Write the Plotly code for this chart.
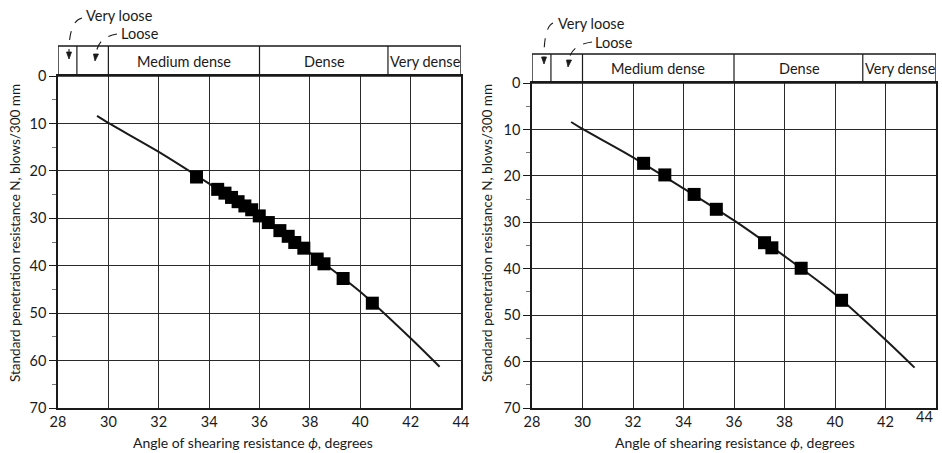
import plotly.graph_objects as go

# ---- data ----
# fitted curve (same on both panels)
curve_phi = [29.55, 30.0, 32.0, 34.0, 36.0, 38.0, 40.0, 42.0, 43.15]
curve_N = [8.4, 9.9, 16.0, 22.7, 29.6, 37.3, 45.5, 55.3, 61.3]

# left panel points
left_phi = [33.5, 34.34, 34.63, 34.89, 35.15, 35.42, 35.69, 35.99, 36.35, 36.81,
            37.14, 37.40, 37.76, 38.29, 38.56, 39.32, 40.48]
left_N = [21.3, 23.9, 24.7, 25.6, 26.5, 27.4, 28.2, 29.5, 30.9, 32.6,
          33.8, 35.1, 36.3, 38.6, 39.6, 42.7, 47.9]

# right panel points
right_phi = [32.42, 33.26, 34.42, 35.30, 37.21, 37.50, 38.66, 40.26]
right_N = [17.3, 19.8, 24.0, 27.2, 34.4, 35.5, 39.9, 46.8]

# density classes (boundaries in degrees)
class_edges = [28.0, 28.75, 30.0, 36.0, 41.1, 44.0]
class_labels = ["", "", "Medium dense", "Dense", "Very dense"]
class_label_x = [None, None, 33.0, 38.6, 42.6]

x_ticks = [28, 30, 32, 34, 36, 38, 40, 42, 44]
y_ticks = [0, 10, 20, 30, 40, 50, 60, 70]

W, H = 942, 453
FONT = "Lato"
INK = "#1a1a1a"


def P(px, py):
    """window pixel -> paper coordinates"""
    return px / W, 1 - py / H


fig = go.Figure()

panels = [
    dict(x="x", y="y", phi=left_phi, N=left_N,
         xpx=(58, 461), ypx=(76, 408), band_top=46, band_bot=76,
         vl_arrow=[(82, 18), (69, 21), (69, 52), (69, 59)],
         l_arrow=[(117, 34), (98, 37), (96, 54), (95, 61)],
         vl_text=(84, 16), l_text=(119, 34), ytitle_x=15, xtitle_x=253),
    dict(x="x2", y="y2", phi=right_phi, N=right_N,
         xpx=(532, 936), ypx=(83, 408), band_top=54, band_bot=83,
         vl_arrow=[(553, 23), (544, 27), (544, 57), (544, 64)],
         l_arrow=[(592, 42), (571, 45), (569, 60), (568, 67)],
         vl_text=(556, 23), l_text=(593, 42), ytitle_x=487, xtitle_x=735),
]

shapes = []
annotations = []

for i, p in enumerate(panels):
    fig.add_trace(go.Scatter(x=curve_phi, y=curve_N, mode="lines",
                             line=dict(color=INK, width=2, shape="spline", smoothing=0.8),
                             xaxis=p["x"], yaxis=p["y"], showlegend=False,
                             hoverinfo="skip"))
    fig.add_trace(go.Scatter(x=p["phi"], y=p["N"], mode="markers",
                             marker=dict(symbol="square", size=13, color="black",
                                         line=dict(width=0)),
                             xaxis=p["x"], yaxis=p["y"], showlegend=False))

    xname = "xaxis" if i == 0 else "xaxis2"
    yname = "yaxis" if i == 0 else "yaxis2"
    x0p, _ = P(p["xpx"][0], 0)
    x1p, _ = P(p["xpx"][1], 0)
    _, ytp = P(0, p["ypx"][0])
    _, ybp = P(0, p["ypx"][1])
    xtt = [str(v) for v in x_ticks] if i == 0 else [str(v) for v in x_ticks[:-1]] + [""]
    fig.layout[xname] = dict(
        domain=[x0p, min(x1p, 1.0)], range=[28, 44], tickvals=x_ticks, ticktext=xtt,
        ticks="",
        showgrid=True, gridcolor="#2a2a2a", gridwidth=1.3,
        showline=True, linecolor=INK, linewidth=1.6, mirror=True,
        zeroline=False, anchor=p["y"], automargin=False,
        tickfont=dict(family=FONT, size=14.5, color=INK),
    )
    fig.layout[yname] = dict(
        domain=[ybp, ytp], range=[70, 0], tickvals=y_ticks, ticks="outside",
        ticklen=7, tickwidth=1.3, tickcolor=INK,
        minor=dict(dtick=5, tick0=0, ticks="outside", ticklen=4, tickcolor="#777",
                   showgrid=False),
        showgrid=True, gridcolor="#2a2a2a", gridwidth=1.3,
        showline=True, linecolor=INK, linewidth=1.6, mirror=True,
        zeroline=False, anchor=p["x"], automargin=False,
        tickfont=dict(family=FONT, size=14.5, color=INK),
    )

    # header band
    _, ytop = P(0, p["band_top"])
    _, ybot = P(0, p["band_bot"])
    shapes.append(dict(type="rect", xref=p["x"], yref="paper", x0=28, x1=44,
                       y0=ybot, y1=ytop, line=dict(color=INK, width=1.4),
                       fillcolor="rgba(0,0,0,0)", layer="above"))
    for e in class_edges[1:-1]:
        shapes.append(dict(type="line", xref=p["x"], yref="paper", x0=e, x1=e,
                           y0=ybot, y1=ytop, line=dict(color=INK, width=1.2)))
    ymid = (ytop + ybot) / 2
    for lab, lx in zip(class_labels, class_label_x):
        if lab:
            annotations.append(dict(text=lab, x=lx, y=ymid, xref=p["x"], yref="paper",
                                    showarrow=False, xanchor="center", yanchor="middle",
                                    font=dict(family=FONT, size=14.5, color=INK)))

    # curved dashed arrows for Very loose / Loose
    for arr in (p["vl_arrow"], p["l_arrow"]):
        (sx, sy), (cx, cy), (ex, ey), (tx, ty) = [P(*q) for q in arr]
        shapes.append(dict(type="path", xref="paper", yref="paper",
                           path=f"M {sx},{sy} Q {cx},{cy} {ex},{ey}",
                           line=dict(color=INK, width=1.1, dash="dash")))
        ex_px, ey_px = arr[2]
        a = P(ex_px - 2.5, ey_px)
        b = P(ex_px + 2.5, ey_px)
        shapes.append(dict(type="path", xref="paper", yref="paper",
                           path=f"M {a[0]},{a[1]} L {b[0]},{b[1]} L {tx},{ty} Z",
                           fillcolor=INK, line=dict(color=INK, width=0.8)))

    vx, vy = P(*p["vl_text"])
    lx_, ly_ = P(*p["l_text"])
    annotations.append(dict(text="Very loose", x=vx, y=vy, xref="paper", yref="paper",
                            showarrow=False, xanchor="left", yanchor="middle",
                            font=dict(family=FONT, size=14.5, color=INK)))
    annotations.append(dict(text="Loose", x=lx_, y=ly_, xref="paper", yref="paper",
                            showarrow=False, xanchor="left", yanchor="middle",
                            font=dict(family=FONT, size=14.5, color=INK)))

    # axis titles
    tx_, ty_ = P(p["xtitle_x"], 442)
    annotations.append(dict(text="Angle of shearing resistance <i>ϕ</i>, degrees",
                            x=tx_, y=ty_, xref="paper", yref="paper", showarrow=False,
                            xanchor="center", yanchor="middle",
                            font=dict(family=FONT, size=14, color=INK)))
    yx, yy = P(p["ytitle_x"], 233)
    annotations.append(dict(text="Standard penetration resistance N, blows/300 mm",
                            x=yx, y=yy, xref="paper", yref="paper", showarrow=False,
                            textangle=-90, xanchor="center", yanchor="middle",
                            font=dict(family=FONT, size=13.5, color=INK)))

# "44" on the right panel, kept inside the page edge
ax44, ay44 = P(924, 416)
annotations.append(dict(text=str(x_ticks[-1]), x=ax44, y=ay44, xref="paper",
                        yref="paper", showarrow=False, xanchor="center", yanchor="middle",
                        font=dict(family=FONT, size=14.5, color=INK)))

fig.update_layout(
    width=W, height=H,
    margin=dict(l=0, r=0, t=0, b=0),
    paper_bgcolor="white", plot_bgcolor="white",
    shapes=shapes, annotations=annotations,
    showlegend=False,
)

# remove the browser's default 8px body margin so the figure fills the window
fig.write_html(
    "out.html",
    config={"displayModeBar": False},
    post_script="document.body.style.margin='0';"
                "document.documentElement.style.overflow='hidden';"
                "document.body.style.overflow='hidden';",
)
